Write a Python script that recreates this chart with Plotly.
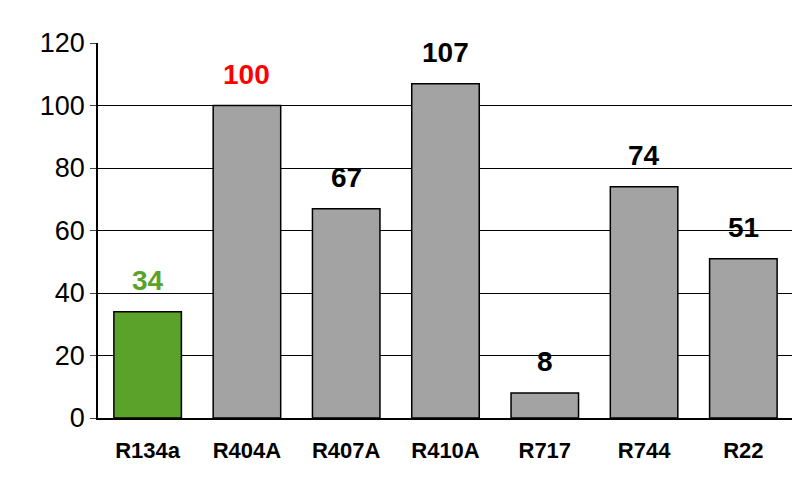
import plotly.graph_objects as go

categories = ["R134a", "R404A", "R407A", "R410A", "R717", "R744", "R22"]
values = [34, 100, 67, 107, 8, 74, 51]
bar_colors = ["#5BA22A", "#A3A3A3", "#A3A3A3", "#A3A3A3", "#A3A3A3", "#A3A3A3", "#A3A3A3"]
label_colors = ["#5BA22A", "#FF0000", "#000000", "#000000", "#000000", "#000000", "#000000"]

fig = go.Figure(go.Bar(
    x=categories, y=values,
    marker=dict(color=bar_colors, line=dict(color="black", width=1.5)),
    width=0.68, cliponaxis=False,
))
for c, v, col in zip(categories, values, label_colors):
    fig.add_annotation(x=c, y=v, text=f"<b>{v}</b>", showarrow=False, yanchor="bottom",
                       yshift=14, font=dict(family="Liberation Sans", size=28, color=col))
fig.update_layout(
    width=800, height=493, paper_bgcolor="white", plot_bgcolor="white",
    margin=dict(l=90, r=15, t=35, b=83), showlegend=False,
    font=dict(family="Liberation Sans", color="black"),
    xaxis=dict(showline=True, linecolor="black", linewidth=1.5, automargin=False,
               tickfont=dict(size=22), tickprefix="<b>", ticksuffix="</b>",
               ticks="outside", ticklen=12, tickcolor="white"),
    yaxis=dict(range=[0, 120], dtick=20, showgrid=True, gridcolor="black", gridwidth=1,
               showline=True, linecolor="black", linewidth=1.5, ticks="outside", automargin=False,
               ticklen=6, tickfont=dict(size=27), zeroline=False),
)
fig.write_html("out.html")
